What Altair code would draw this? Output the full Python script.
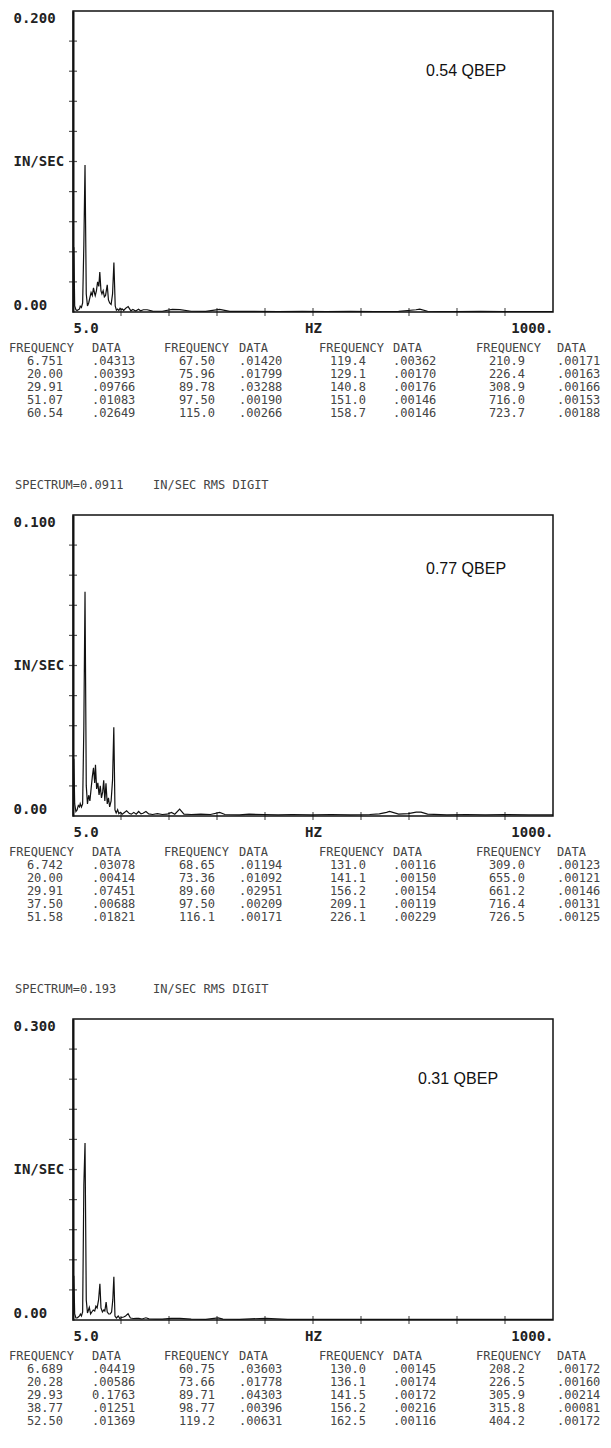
import altair as alt
import pandas as pd

# ---------------- spectrum traces (frequency Hz, amplitude IN/SEC) ----------------
spec_054 = [
    (5.0, 0.028), (6.75, 0.0431), (8.5, 0.004), (11.0, 0.0015), (13.5, 0.001), (16.0, 0.0015),
    (18.5, 0.002), (20.0, 0.0039), (22.5, 0.003), (25.0, 0.006), (27.5, 0.045), (29.91, 0.0977),
    (32.5, 0.012), (35.0, 0.004), (37.5, 0.006), (40.0, 0.0095), (42.5, 0.013), (45.0, 0.011),
    (47.5, 0.016), (50.0, 0.012), (51.07, 0.0108), (53.5, 0.014), (56.0, 0.02), (58.5, 0.017),
    (60.54, 0.0265), (63.0, 0.014), (65.0, 0.012), (67.5, 0.0142), (70.0, 0.010), (72.5, 0.011),
    (75.96, 0.018), (78.5, 0.008), (81.0, 0.006), (84.0, 0.005), (87.0, 0.012), (89.78, 0.0329),
    (92.5, 0.004), (95.0, 0.0012), (97.5, 0.0019), (100.0, 0.001), (102.5, 0.0025), (105.0, 0.0015),
    (107.5, 0.002), (110.0, 0.001), (115.0, 0.0027), (119.4, 0.0036), (125.0, 0.0008), (129.1, 0.0017),
    (135.0, 0.0007), (140.8, 0.0018), (145.0, 0.0008), (151.0, 0.0015), (158.7, 0.0015), (170.0, 0.0006),
    (190.0, 0.0005), (210.9, 0.0017), (226.4, 0.0016), (250.0, 0.0005), (280.0, 0.0004), (308.9, 0.0017),
    (330.0, 0.0004), (380.0, 0.0004), (430.0, 0.0003), (480.0, 0.0004), (530.0, 0.0003), (580.0, 0.0004),
    (630.0, 0.0003), (680.0, 0.0004), (716.0, 0.0015), (723.7, 0.0019), (740.0, 0.0005), (800.0, 0.0003),
    (850.0, 0.0004), (900.0, 0.0003), (950.0, 0.0003), (1000.0, 0.0003),
]
spec_077 = [
    (5.0, 0.012), (6.74, 0.019), (8.5, 0.004), (11.0, 0.0015), (13.5, 0.002), (16.0, 0.0035),
    (18.5, 0.003), (20.0, 0.0041), (22.5, 0.003), (25.0, 0.004), (27.5, 0.03), (29.91, 0.0745),
    (32.5, 0.010), (35.0, 0.004), (37.5, 0.0069), (40.0, 0.005), (42.5, 0.009), (45.0, 0.013),
    (47.5, 0.016), (50.0, 0.011), (51.58, 0.017), (54.0, 0.009), (56.5, 0.011), (59.0, 0.007),
    (61.5, 0.010), (64.0, 0.006), (66.5, 0.008), (68.65, 0.0119), (71.0, 0.005), (73.36, 0.0109),
    (76.0, 0.004), (78.5, 0.006), (81.0, 0.003), (84.0, 0.005), (87.0, 0.012), (89.6, 0.0295),
    (92.0, 0.002), (94.5, 0.001), (97.5, 0.0021), (100.0, 0.0008), (103.0, 0.0012), (107.0, 0.0006),
    (111.0, 0.0011), (116.1, 0.0017), (122.0, 0.0008), (126.0, 0.0006), (131.0, 0.0012), (136.0, 0.0006),
    (141.1, 0.0015), (146.0, 0.0007), (150.0, 0.0009), (156.2, 0.0015), (162.0, 0.0007), (170.0, 0.0005),
    (180.0, 0.0008), (190.0, 0.0005), (200.0, 0.0006), (209.1, 0.0012), (216.0, 0.0006), (226.1, 0.0023),
    (235.0, 0.0006), (250.0, 0.0005), (270.0, 0.0006), (290.0, 0.0005), (309.0, 0.0012), (320.0, 0.0005),
    (350.0, 0.0004), (370.0, 0.0006), (400.0, 0.0005), (430.0, 0.0004), (460.0, 0.0005), (500.0, 0.0004),
    (540.0, 0.0005), (580.0, 0.0004), (620.0, 0.0005), (640.0, 0.0007), (655.0, 0.0012), (661.2, 0.0015),
    (680.0, 0.0006), (700.0, 0.0008), (716.4, 0.0013), (726.5, 0.0013), (740.0, 0.0006), (780.0, 0.0004),
    (820.0, 0.0005), (860.0, 0.0004), (900.0, 0.0005), (950.0, 0.0004), (1000.0, 0.0004),
]
spec_031 = [
    (5.0, 0.02), (6.69, 0.0442), (8.5, 0.006), (11.0, 0.002), (13.5, 0.002), (16.0, 0.003),
    (18.5, 0.004), (20.28, 0.0059), (22.5, 0.004), (25.0, 0.008), (27.5, 0.135), (29.93, 0.1763),
    (32.5, 0.02), (35.0, 0.007), (38.77, 0.0125), (41.5, 0.006), (44.0, 0.008), (47.0, 0.010),
    (50.0, 0.009), (52.5, 0.0137), (55.0, 0.012), (58.0, 0.02), (60.75, 0.036), (63.0, 0.012),
    (66.0, 0.008), (69.0, 0.010), (71.0, 0.009), (73.66, 0.0178), (76.0, 0.008), (79.0, 0.006),
    (82.0, 0.006), (85.0, 0.008), (87.5, 0.02), (89.71, 0.043), (92.0, 0.004), (95.0, 0.002),
    (98.77, 0.004), (102.0, 0.0015), (106.0, 0.0025), (110.0, 0.003), (114.0, 0.004), (119.2, 0.0063),
    (124.0, 0.002), (130.0, 0.0015), (136.1, 0.0017), (141.5, 0.0017), (148.0, 0.001), (156.2, 0.0022),
    (162.5, 0.0012), (175.0, 0.0008), (190.0, 0.0008), (208.2, 0.0017), (226.5, 0.0016), (250.0, 0.0008),
    (280.0, 0.0007), (305.9, 0.0021), (315.8, 0.0008), (350.0, 0.0007), (404.2, 0.0017), (450.0, 0.0007),
    (500.0, 0.0007), (600.0, 0.0007), (700.0, 0.0007), (800.0, 0.0007), (900.0, 0.0007), (1000.0, 0.0007),
]
spectra = [spec_054, spec_077, spec_031]

# ---------------- axis / label texts ----------------
y_max = [0.2, 0.1, 0.3]
y_top_label = ["0.200", "0.100", "0.300"]
y_ticks = [
    [0.02, 0.04, 0.06, 0.08, 0.10, 0.12, 0.14, 0.16, 0.18],
    [0.01, 0.02, 0.03, 0.04, 0.05, 0.06, 0.07, 0.08, 0.09],
    [0.03, 0.06, 0.09, 0.12, 0.15, 0.18, 0.21, 0.24, 0.27],
]
x_ticks = [104.5, 204.0, 303.5, 403.0, 502.5, 602.0, 701.5, 801.0, 900.5]
qbep = ["0.54 QBEP", "0.77 QBEP", "0.31 QBEP"]
spectrum_note = ["SPECTRUM=0.0911", "SPECTRUM=0.193"]
rms_note = "IN/SEC RMS DIGIT"

# ---------------- peak tables ----------------
tab_freq = [
    [["6.751", "20.00", "29.91", "51.07", "60.54"],
     ["67.50", "75.96", "89.78", "97.50", "115.0"],
     ["119.4", "129.1", "140.8", "151.0", "158.7"],
     ["210.9", "226.4", "308.9", "716.0", "723.7"]],
    [["6.742", "20.00", "29.91", "37.50", "51.58"],
     ["68.65", "73.36", "89.60", "97.50", "116.1"],
     ["131.0", "141.1", "156.2", "209.1", "226.1"],
     ["309.0", "655.0", "661.2", "716.4", "726.5"]],
    [["6.689", "20.28", "29.93", "38.77", "52.50"],
     ["60.75", "73.66", "89.71", "98.77", "119.2"],
     ["130.0", "136.1", "141.5", "156.2", "162.5"],
     ["208.2", "226.5", "305.9", "315.8", "404.2"]],
]
tab_data = [
    [[".04313", ".00393", ".09766", ".01083", ".02649"],
     [".01420", ".01799", ".03288", ".00190", ".00266"],
     [".00362", ".00170", ".00176", ".00146", ".00146"],
     [".00171", ".00163", ".00166", ".00153", ".00188"]],
    [[".03078", ".00414", ".07451", ".00688", ".01821"],
     [".01194", ".01092", ".02951", ".00209", ".00171"],
     [".00116", ".00150", ".00154", ".00119", ".00229"],
     [".00123", ".00121", ".00146", ".00131", ".00125"]],
    [[".04419", ".00586", "0.1763", ".01251", ".01369"],
     [".03603", ".01778", ".04303", ".00396", ".00631"],
     [".00145", ".00174", ".00172", ".00216", ".00116"],
     [".00172", ".00160", ".00214", ".00081", ".00172"]],
]

# ---------------- layout ----------------
W, H = 480, 301
TAB_H = 183
MONO = "DejaVu Sans Mono"
HDR_X = [-64, 91, 246, 403]
FREQ_R = [-10, 142, 293, 452]
DATA_L = [19, 166, 320, 484]
QX = [353, 353, 345]
QY = [60, 54, 60]


def plot_panel(i):
    df = pd.DataFrame(spectra[i], columns=["freq", "amp"])
    xs = alt.Scale(domain=[5, 1000], nice=False, zero=False)
    ys = alt.Scale(domain=[0, y_max[i]], nice=False, zero=True)
    xaxis = alt.Axis(values=[5, 502.5, 1000],
                     labelExpr="datum.value == 5 ? '5.0' : (datum.value == 1000 ? '1000.' : 'HZ')",
                     labelFlush=True, ticks=False, domain=False, grid=False, title=None,
                     labelFont=MONO, labelFontSize=14, labelFontWeight="bold",
                     labelColor="#222", labelPadding=9)
    yaxis = alt.Axis(values=[0, y_max[i] / 2, y_max[i]],
                     labelExpr=f"datum.value == 0 ? '0.00' : (datum.value > {y_max[i] * 0.75} ? '{y_top_label[i]}' : 'IN/SEC')",
                     labelFlush=True, labelAlign="left", labelPadding=60, ticks=False, tickSize=0,
                     domain=True, domainColor="#111", domainWidth=2, grid=False, title=None,
                     labelFont=MONO, labelFontSize=14, labelFontWeight="bold", labelColor="#222")
    line = alt.Chart(df).mark_line(color="#111", strokeWidth=1.2, clip=True).encode(
        x=alt.X("freq:Q", scale=xs, axis=xaxis),
        y=alt.Y("amp:Q", scale=ys, axis=yaxis),
    )
    yt = alt.Chart(pd.DataFrame({"amp": y_ticks[i]})).mark_tick(
        orient="horizontal", size=8, thickness=1.2, color="#111").encode(
        x=alt.value(0), y=alt.Y("amp:Q", scale=ys, axis=yaxis))
    xt = alt.Chart(pd.DataFrame({"freq": x_ticks})).mark_tick(
        orient="vertical", size=8, thickness=1.2, color="#111").encode(
        x=alt.X("freq:Q", scale=xs, axis=xaxis), y=alt.value(H))
    qt = alt.Chart(pd.DataFrame({"t": [qbep[i]]})).mark_text(
        align="left", baseline="middle", font="Liberation Sans", fontSize=16, color="#111").encode(
        text="t:N", x=alt.value(QX[i]), y=alt.value(QY[i]))
    return alt.layer(line, yt, xt, qt).properties(
        width=W, height=H, view=alt.ViewBackground(stroke="#111", strokeWidth=1.5))


def text_layer(texts, rows, x, align, rs):
    return alt.Chart(pd.DataFrame({"t": texts, "row": rows})).mark_text(
        align=align, baseline="middle", font=MONO, fontSize=12, color="#444").encode(
        text="t:N", x=alt.value(x), y=alt.Y("row:Q", scale=rs, axis=None))


def table_panel(i, height, note=None):
    rs = alt.Scale(domain=[0, 5], range=[26, 91])
    layers = []
    for g in range(4):
        layers.append(text_layer(["FREQUENCY"], [0], HDR_X[g], "left", rs))
        layers.append(text_layer(["DATA"], [0], DATA_L[g], "left", rs))
        layers.append(text_layer(tab_freq[i][g], [1, 2, 3, 4, 5], FREQ_R[g], "right", rs))
        layers.append(text_layer(tab_data[i][g], [1, 2, 3, 4, 5], DATA_L[g], "left", rs))
    if note is not None:
        layers.append(alt.Chart(pd.DataFrame({"t": [note]})).mark_text(
            align="left", baseline="middle", font=MONO, fontSize=12, color="#444").encode(
            text="t:N", x=alt.value(-58), y=alt.value(163)))
        layers.append(alt.Chart(pd.DataFrame({"t": [rms_note]})).mark_text(
            align="left", baseline="middle", font=MONO, fontSize=12, color="#444").encode(
            text="t:N", x=alt.value(80), y=alt.value(163)))
    return alt.layer(*layers).properties(width=W, height=height)


chart = alt.vconcat(
    plot_panel(0), table_panel(0, TAB_H, spectrum_note[0]),
    plot_panel(1), table_panel(1, TAB_H, spectrum_note[1]),
    plot_panel(2), table_panel(2, 100),
    spacing=10, bounds="flush",
).properties(
    padding={"left": 0, "top": 2, "right": 0, "bottom": 0},
    background="white",
).configure_view(stroke="transparent")

chart.save("out.html", embed_options={"renderer": "svg", "actions": False})
